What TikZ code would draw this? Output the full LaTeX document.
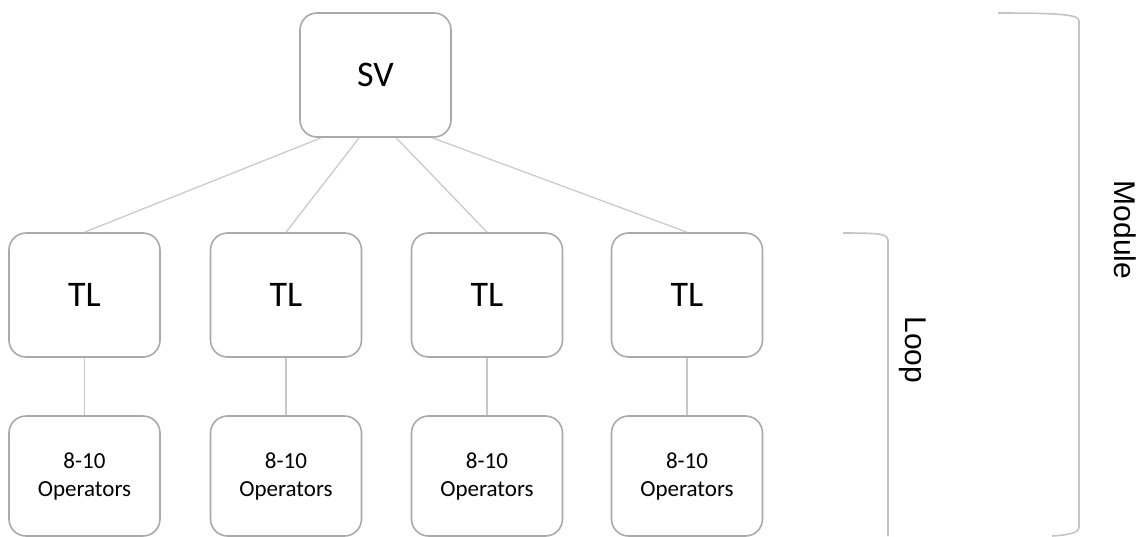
\documentclass[tikz,border=0pt]{standalone}
\usepackage{fontspec}
\setmainfont{Carlito}
\newfontfamily\labelfont{Liberation Sans}
\definecolor{boxline}{HTML}{AAAAAA}
\definecolor{linkline}{HTML}{C8C8C8}
\definecolor{braceline}{HTML}{C4C4C4}
\begin{document}
\begin{tikzpicture}[x=1pt,y=-1pt,
  unit/.style={draw=boxline, line width=1.6pt, rounded corners=17pt,
    fill=white, align=center, inner sep=0pt, minimum width=151pt},
  big/.style={unit, minimum height=124pt, font=\fontsize{36}{40}\selectfont},
  crew/.style={unit, minimum height=120pt, font=\fontsize{23}{28}\selectfont},
  link/.style={draw=linkline, line width=1.2pt},
  bracket/.style={draw=braceline, line width=1.6pt},
  side/.style={font=\labelfont\fontsize{30}{34}\selectfont, rotate=-90}]
\useasboundingbox (0,0) rectangle (1146,536);

% supervisor
\node[big] (sv) at (375.5,75) {SV};

% team leaders
\node[big] (tl1) at (84.5,295) {TL};
\node[big] (tl2) at (286,295) {TL};
\node[big] (tl3) at (487,295) {TL};
\node[big] (tl4) at (687,295) {TL};

% operator groups
\node[crew] (op1) at (84.5,476) {8-10\\Operators};
\node[crew] (op2) at (286,476) {8-10\\Operators};
\node[crew] (op3) at (487,476) {8-10\\Operators};
\node[crew] (op4) at (687,476) {8-10\\Operators};

% fan-out points along the bottom of the supervisor box
\coordinate (s1) at ([xshift=22pt]sv.south west);
\coordinate (s2) at ([xshift=60pt]sv.south west);
\coordinate (s3) at ([xshift=97pt]sv.south west);
\coordinate (s4) at ([xshift=133pt]sv.south west);

\begin{scope}[on background layer/.style={}]
\draw[link] (s1) -- (tl1.north);
\draw[link] (s2) -- (tl2.north);
\draw[link] (s3) -- (tl3.north);
\draw[link] (s4) -- (tl4.north);
\draw[link] (tl1.south) -- (op1.north);
\draw[link] (tl2.south) -- (op2.north);
\draw[link] (tl3.south) -- (op3.north);
\draw[link] (tl4.south) -- (op4.north);
\end{scope}

% loop bracket
\coordinate (lpA) at (843,233);
\coordinate (lpB) at (888,240);
\coordinate (lpC) at (888,536);
\draw[bracket] (lpA) .. controls (880,233) and (888,234) .. (lpB) -- (lpC);
\node[side] (loop) at (913,350) {Loop};

% module bracket
\coordinate (mdA) at (998,13);
\coordinate (mdB) at (1079,21);
\coordinate (mdC) at (1079,527);
\coordinate (mdD) at (1052,536);
\draw[bracket] (mdA) .. controls (1065,13) and (1079,15) .. (mdB) -- (mdC)
  .. controls (1079,533) and (1068,535) .. (mdD);
\node[side] (module) at (1125,230) {Module};
\end{tikzpicture}
\end{document}
